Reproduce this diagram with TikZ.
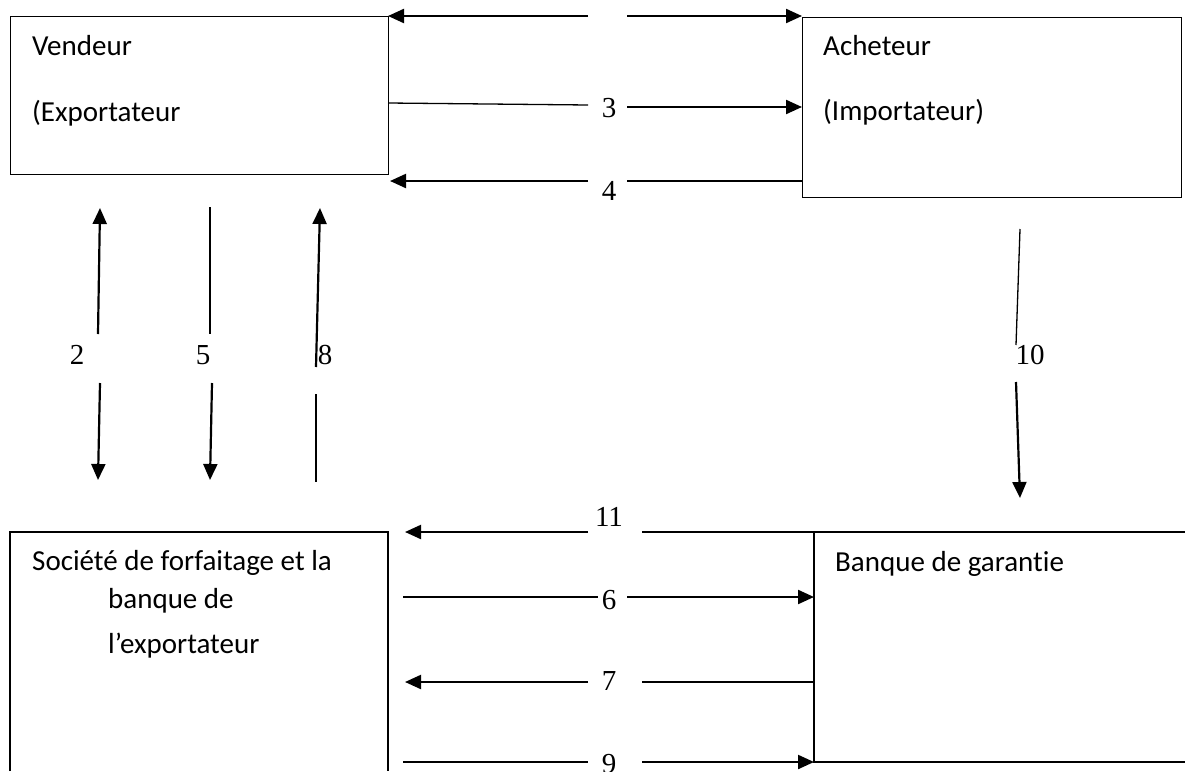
\documentclass[tikz,border=0pt]{standalone}
\usepackage{fontspec}
\setmainfont{Carlito}[Ligatures=NoCommon]
\newfontfamily\numfont{Liberation Serif}
\usetikzlibrary{arrows.meta}
\begin{document}
\begin{tikzpicture}[x=1pt,y=-1pt,
  boxline/.style={line width=1.4pt},
  thinline/.style={line width=1.3pt},
  arr/.style={line width=2.2pt,-{Triangle[length=16pt,width=14pt]}},
  lbl/.style={font=\numfont\fontsize{29}{34}\selectfont,inner sep=0pt,anchor=center},
  txt/.style={font=\fontsize{29}{35}\selectfont,inner sep=0pt,anchor=base west}]
\useasboundingbox (0,0) rectangle (1185,771);
% boxes
\node[boxline,draw,anchor=north west,minimum width=378pt,minimum height=158pt,inner sep=0pt] (vend) at (10,16) {};
\node[boxline,draw,anchor=north west,minimum width=379pt,minimum height=180pt,inner sep=0pt] (ach) at (802,17) {};
\coordinate (blA) at (10,771);
\coordinate (blB) at (10,532);
\coordinate (blC) at (388,532);
\coordinate (blD) at (388,771);
\draw[boxline] (blA) -- (blB) -- (blC) -- (blD);
\coordinate (brA) at (1185,532);
\coordinate (brB) at (814,532);
\coordinate (brC) at (814,762);
\coordinate (brD) at (1185,762);
\draw[boxline] (brA) -- (brB) -- (brC) -- (brD);
% box texts
\node[txt] (tv1) at (32,55) {Vendeur};
\node[txt] (tv2) at (32,121) {(Exportateur};
\node[txt] (ta1) at (823,55) {Acheteur};
\node[txt] (ta2) at (823,120) {(Importateur)};
\node[txt] (ts1) at (32,570) {Société de forfaitage et la};
\node[txt] (ts2) at (108,608) {banque de};
\node[txt] (ts3) at (108,653) {l’exportateur};
\node[txt] (tb1) at (835,571) {Banque de garantie};
% labels
\node[lbl] (l3) at (609,108) {3};
\node[lbl] (l4) at (609,191) {4};
\node[lbl] (l2) at (77,355) {2};
\node[lbl] (l5) at (203,355) {5};
\node[lbl] (l8) at (325,355) {8};
\node[lbl] (l10) at (1030,355) {10};
\node[lbl] (l11) at (609,517) {11};
\node[lbl] (l6) at (609,600) {6};
\node[lbl] (l7) at (609,681) {7};
\node[lbl] (l9) at (609,764) {9};
% coordinates for connectors
\coordinate (a1s) at (588,16); \coordinate (a1e) at (388,16);
\coordinate (b1s) at (627,16); \coordinate (b1e) at (802,16);
\coordinate (a3s) at (388,103); \coordinate (a3e) at (588,105);
\coordinate (b3s) at (627,107); \coordinate (b3e) at (802,107);
\coordinate (a4s) at (588,181); \coordinate (a4e) at (390,181);
\coordinate (b4s) at (627,181); \coordinate (b4e) at (802,181);
\coordinate (u2s) at (98,334); \coordinate (u2e) at (100,208);
\coordinate (d2s) at (100,383); \coordinate (d2e) at (98,480);
\coordinate (u5s) at (210,207); \coordinate (u5e) at (210,334);
\coordinate (d5s) at (212,383); \coordinate (d5e) at (210,480);
\coordinate (u8s) at (316,367); \coordinate (u8e) at (320,208);
\coordinate (d8s) at (316,394); \coordinate (d8e) at (316,482);
\coordinate (u10s) at (1020,229); \coordinate (u10e) at (1016,345);
\coordinate (d10s) at (1016,382); \coordinate (d10e) at (1020,498);
\coordinate (a11s) at (588,532); \coordinate (a11e) at (405,532);
\coordinate (b11s) at (642,532);
\coordinate (a6s) at (403,597); \coordinate (a6e) at (598,597);
\coordinate (b6s) at (627,597); \coordinate (b6e) at (814,597);
\coordinate (a7s) at (588,682); \coordinate (a7e) at (405,682);
\coordinate (b7s) at (642,682); \coordinate (b7e) at (814,682);
\coordinate (a9s) at (403,762); \coordinate (a9e) at (588,762);
\coordinate (b9s) at (642,762); \coordinate (b9e) at (814,762);
% top row
\draw[arr] (a1s) -- (a1e);
\draw[arr] (b1s) -- (b1e);
\draw[thinline] (a3s) -- (a3e);
\draw[arr] (b3s) -- (b3e);
\draw[arr] (a4s) -- (a4e);
\draw[thinline] (b4s) -- (b4e);
% verticals
\draw[arr] (u2s) -- (u2e);
\draw[arr] (d2s) -- (d2e);
\draw[thinline] (u5s) -- (u5e);
\draw[arr] (d5s) -- (d5e);
\draw[arr] (u8s) -- (u8e);
\draw[thinline] (d8s) -- (d8e);
\draw[thinline] (u10s) -- (u10e);
\draw[arr] (d10s) -- (d10e);
% bottom row
\draw[arr] (a11s) -- (a11e);
\draw[thinline] (b11s) -- (brB);
\draw[thinline] (a6s) -- (a6e);
\draw[arr] (b6s) -- (b6e);
\draw[arr] (a7s) -- (a7e);
\draw[thinline] (b7s) -- (b7e);
\draw[thinline] (a9s) -- (a9e);
\draw[arr] (b9s) -- (b9e);
\end{tikzpicture}
\end{document}
